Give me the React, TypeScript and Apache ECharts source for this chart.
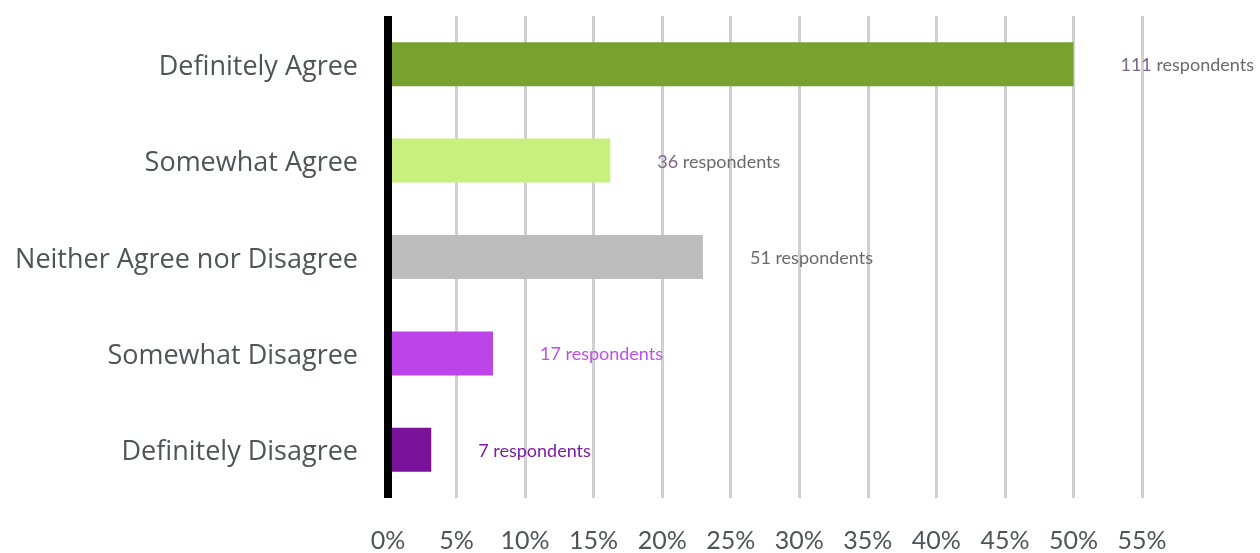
import React, { useEffect, useRef } from "react";
import * as echarts from "echarts";

const categories = [
  "Definitely Agree",
  "Somewhat Agree",
  "Neither Agree nor Disagree",
  "Somewhat Disagree",
  "Definitely Disagree",
];
const respondents = [111, 36, 51, 17, 7];
const barColors = ["#78a22f", "#c8f07e", "#bdbdbd", "#bc44e8", "#7b129b"];
const labelColors = ["#6a6a6a", "#6a6a6a", "#6a6a6a", "#c04ee8", "#7e1ba4"];
const numberColors = ["#7a6787", "#7a6787", "#6a6a6a", "#c04ee8", "#7e1ba4"];
const xTicks = { min: 0, max: 55, interval: 5 };

export default function App() {
  const ref = useRef<HTMLDivElement>(null);
  useEffect(() => {
    if (!ref.current) return;
    const chart = echarts.init(ref.current, null, { renderer: "svg" });
    const total = respondents.reduce((a, b) => a + b, 0);
    const font = "Lato, 'Open Sans', sans-serif";
    const yFont = "'Open Sans', Lato, sans-serif";
    chart.setOption({
      animation: false,
      grid: { left: 388, right: 118, top: 16, bottom: 55, containLabel: false },
      xAxis: {
        type: "value",
        min: xTicks.min,
        max: xTicks.max,
        interval: xTicks.interval,
        axisLine: { show: false },
        axisTick: { show: false },
        splitLine: { show: true, lineStyle: { color: "#cfcfd4", width: 3 } },
        axisLabel: {
          formatter: "{value}%",
          fontFamily: font,
          fontSize: 25,
          lineHeight: 25,
          color: "#4f5457",
          margin: 28,
        },
      },
      yAxis: {
        type: "category",
        data: categories,
        inverse: true,
        z: 10,
        axisLine: { show: true, lineStyle: { color: "#000000", width: 8, cap: "butt" } },
        axisTick: { show: false },
        axisLabel: {
          fontFamily: yFont,
          fontSize: 27,
          color: "#4f5457",
          margin: 30,
        },
      },
      series: [
        {
          type: "bar",
          barWidth: 44,
          data: respondents.map((v, i) => ({
            value: (v / total) * 100,
            itemStyle: { color: barColors[i] },
            label: {
              rich: {
                n: { color: numberColors[i], fontSize: 18, fontFamily: font },
                t: { color: labelColors[i], fontSize: 18, fontFamily: font },
              },
            },
          })),
          label: {
            show: true,
            position: "right",
            distance: 47,
            fontFamily: font,
            fontSize: 18,
            formatter: (p: any) => `{n|${respondents[p.dataIndex]}} {t|respondents}`,
          },
        },
      ],
    });
    return () => chart.dispose();
  }, []);
  return (
    <div
      ref={ref}
      style={{ position: "fixed", left: 0, top: 0, width: 1260, height: 553 }}
    />
  );
}
